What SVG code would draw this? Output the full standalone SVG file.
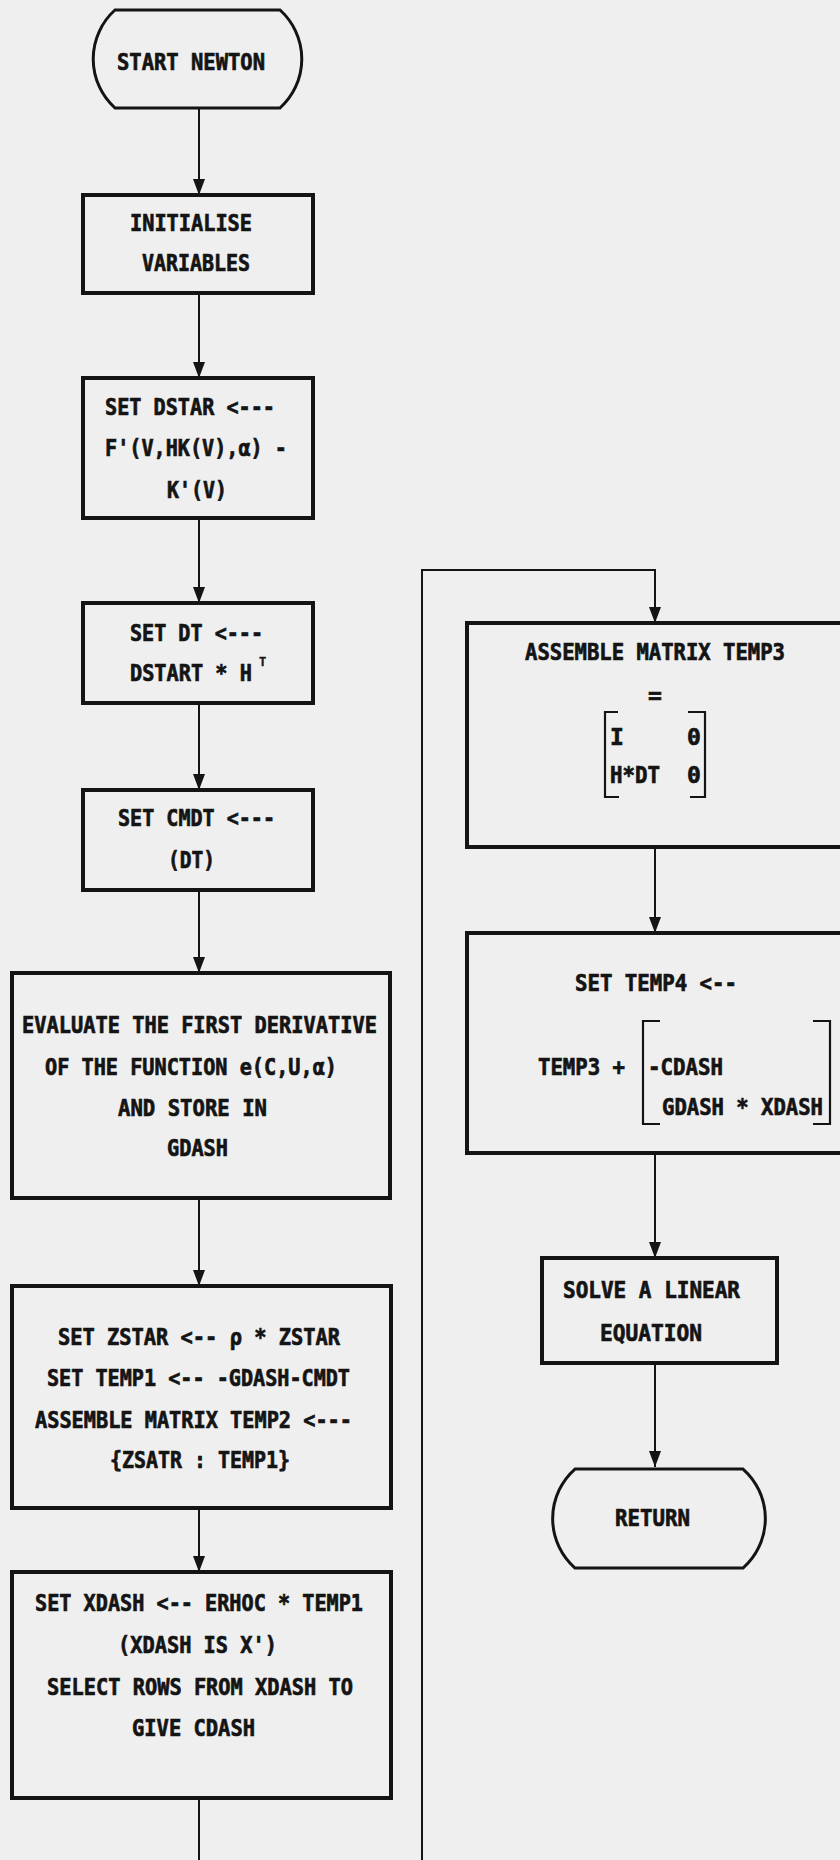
<svg xmlns="http://www.w3.org/2000/svg" width="840" height="1860" viewBox="0 0 840 1860">
  <style>
    .bg { fill: #efefef; }
    .box { fill: none; stroke: #141414; stroke-width: 4; }
    .term { fill: none; stroke: #141414; stroke-width: 3; }
    .line { fill: none; stroke: #141414; stroke-width: 2; }
    .brk { fill: none; stroke: #141414; stroke-width: 2.2; }
    .t { font-family: "DejaVu Sans Mono", "Liberation Mono", monospace; font-weight: bold; font-size: 23px; fill: #141414; stroke: #141414; stroke-width: 0.7; }
    .sup { font-family: "DejaVu Sans Mono", "Liberation Mono", monospace; font-weight: bold; font-size: 12px; fill: #141414; stroke: #141414; stroke-width: 0.3; }
  </style>
  <defs>
    <marker id="arrow" viewBox="0 0 16 12" refX="16" refY="6" markerWidth="16" markerHeight="12" markerUnits="userSpaceOnUse" orient="auto">
      <path d="M0,0 L16,6 L0,12 Z" fill="#141414"/>
    </marker>
  </defs>

  <rect class="bg" x="0" y="0" width="840" height="1860"/>

  <!-- flow lines -->
  <g id="connectors">
    <path class="line" d="M199,108 V195" marker-end="url(#arrow)"/>
    <path class="line" d="M199,293 V378" marker-end="url(#arrow)"/>
    <path class="line" d="M199,518 V603" marker-end="url(#arrow)"/>
    <path class="line" d="M199,703 V790" marker-end="url(#arrow)"/>
    <path class="line" d="M199,890 V973" marker-end="url(#arrow)"/>
    <path class="line" d="M199,1198 V1286" marker-end="url(#arrow)"/>
    <path class="line" d="M199,1508 V1572" marker-end="url(#arrow)"/>
    <path class="line" d="M199,1798 V1860"/>
    <path class="line" d="M422,1860 V570 H655 V623" marker-end="url(#arrow)"/>
    <path class="line" d="M655,847 V933" marker-end="url(#arrow)"/>
    <path class="line" d="M655,1153 V1258" marker-end="url(#arrow)"/>
    <path class="line" d="M655,1363 V1467" marker-end="url(#arrow)"/>
  </g>

  <g id="start">
    <path class="term" d="M115,10 H280 A66,66 0 0 1 280,108 H115 A66,66 0 0 1 115,10 Z"/>
    <text class="t" x="117" y="70" textLength="148" lengthAdjust="spacingAndGlyphs">START NEWTON</text>
  </g>

  <g id="initialise">
    <rect class="box" x="83" y="195" width="230" height="98"/>
    <text class="t" x="130" y="231" textLength="122" lengthAdjust="spacingAndGlyphs">INITIALISE</text>
    <text class="t" x="142" y="271" textLength="108" lengthAdjust="spacingAndGlyphs">VARIABLES</text>
  </g>

  <g id="set-dstar">
    <rect class="box" x="83" y="378" width="230" height="140"/>
    <text class="t" x="105" y="415" textLength="170" lengthAdjust="spacingAndGlyphs">SET DSTAR &lt;---</text>
    <text class="t" x="105" y="456" textLength="182" lengthAdjust="spacingAndGlyphs">F'(V,HK(V),α) -</text>
    <text class="t" x="167" y="498" textLength="60" lengthAdjust="spacingAndGlyphs">K'(V)</text>
  </g>

  <g id="set-dt">
    <rect class="box" x="83" y="603" width="230" height="100"/>
    <text class="t" x="130" y="641" textLength="133" lengthAdjust="spacingAndGlyphs">SET DT &lt;---</text>
    <text class="t" transform="translate(130 681) scale(0.88 1)">DSTART * H</text>
    <text class="sup" x="259" y="666">T</text>
  </g>

  <g id="set-cmdt">
    <rect class="box" x="83" y="790" width="230" height="100"/>
    <text class="t" x="118" y="826" textLength="157" lengthAdjust="spacingAndGlyphs">SET CMDT &lt;---</text>
    <text class="t" x="168" y="868" textLength="47" lengthAdjust="spacingAndGlyphs">(DT)</text>
  </g>

  <g id="evaluate-gdash">
    <rect class="box" x="12" y="973" width="378" height="225"/>
    <text class="t" x="22" y="1033" textLength="355" lengthAdjust="spacingAndGlyphs">EVALUATE THE FIRST DERIVATIVE</text>
    <text class="t" x="45" y="1075" textLength="292" lengthAdjust="spacingAndGlyphs">OF THE FUNCTION e(C,U,α)</text>
    <text class="t" x="118" y="1116" textLength="149" lengthAdjust="spacingAndGlyphs">AND STORE IN</text>
    <text class="t" x="167" y="1156" textLength="61" lengthAdjust="spacingAndGlyphs">GDASH</text>
  </g>

  <g id="set-zstar">
    <rect class="box" x="12" y="1286" width="379" height="222"/>
    <text class="t" x="58" y="1345" textLength="282" lengthAdjust="spacingAndGlyphs">SET ZSTAR &lt;-- ρ * ZSTAR</text>
    <text class="t" x="47" y="1386" textLength="303" lengthAdjust="spacingAndGlyphs">SET TEMP1 &lt;-- -GDASH-CMDT</text>
    <text class="t" x="35" y="1428" textLength="317" lengthAdjust="spacingAndGlyphs">ASSEMBLE MATRIX TEMP2 &lt;---</text>
    <text class="t" x="110" y="1468" textLength="180" lengthAdjust="spacingAndGlyphs">{ZSATR : TEMP1}</text>
  </g>

  <g id="set-xdash">
    <rect class="box" x="12" y="1572" width="379" height="226"/>
    <text class="t" x="35" y="1611" textLength="328" lengthAdjust="spacingAndGlyphs">SET XDASH &lt;-- ERHOC * TEMP1</text>
    <text class="t" x="118" y="1653" textLength="159" lengthAdjust="spacingAndGlyphs">(XDASH IS X')</text>
    <text class="t" x="47" y="1695" textLength="306" lengthAdjust="spacingAndGlyphs">SELECT ROWS FROM XDASH TO</text>
    <text class="t" x="132" y="1736" textLength="123" lengthAdjust="spacingAndGlyphs">GIVE CDASH</text>
  </g>

  <g id="assemble-temp3">
    <rect class="box" x="467" y="623" width="400" height="224"/>
    <text class="t" x="525" y="660" textLength="260" lengthAdjust="spacingAndGlyphs">ASSEMBLE MATRIX TEMP3</text>
    <text class="t" x="655" y="703" text-anchor="middle">=</text>
    <path class="brk" d="M618,712 H605 V797 H619"/>
    <path class="brk" d="M688,712 H705 V797 H690"/>
    <text class="t" x="610" y="745">I</text>
    <text class="t" x="687" y="745">0</text>
    <text class="t" x="610" y="783" textLength="50" lengthAdjust="spacingAndGlyphs">H*DT</text>
    <text class="t" x="687" y="783">0</text>
  </g>

  <g id="set-temp4">
    <rect class="box" x="467" y="933" width="400" height="220"/>
    <text class="t" x="575" y="991" textLength="162" lengthAdjust="spacingAndGlyphs">SET TEMP4 &lt;--</text>
    <text class="t" x="538" y="1075" textLength="87" lengthAdjust="spacingAndGlyphs">TEMP3 +</text>
    <path class="brk" d="M660,1021 H643 V1124 H660"/>
    <path class="brk" d="M813,1021 H830 V1124 H813"/>
    <text class="t" x="648" y="1075" textLength="75" lengthAdjust="spacingAndGlyphs">-CDASH</text>
    <text class="t" x="662" y="1115" textLength="161" lengthAdjust="spacingAndGlyphs">GDASH * XDASH</text>
  </g>

  <g id="solve">
    <rect class="box" x="542" y="1258" width="235" height="105"/>
    <text class="t" x="563" y="1298" textLength="177" lengthAdjust="spacingAndGlyphs">SOLVE A LINEAR</text>
    <text class="t" x="600" y="1341" textLength="102" lengthAdjust="spacingAndGlyphs">EQUATION</text>
  </g>

  <g id="return">
    <path class="term" d="M575,1469 H743 A66,66 0 0 1 743,1568 H575 A66,66 0 0 1 575,1469 Z"/>
    <text class="t" x="615" y="1526" textLength="75" lengthAdjust="spacingAndGlyphs">RETURN</text>
  </g>
</svg>
